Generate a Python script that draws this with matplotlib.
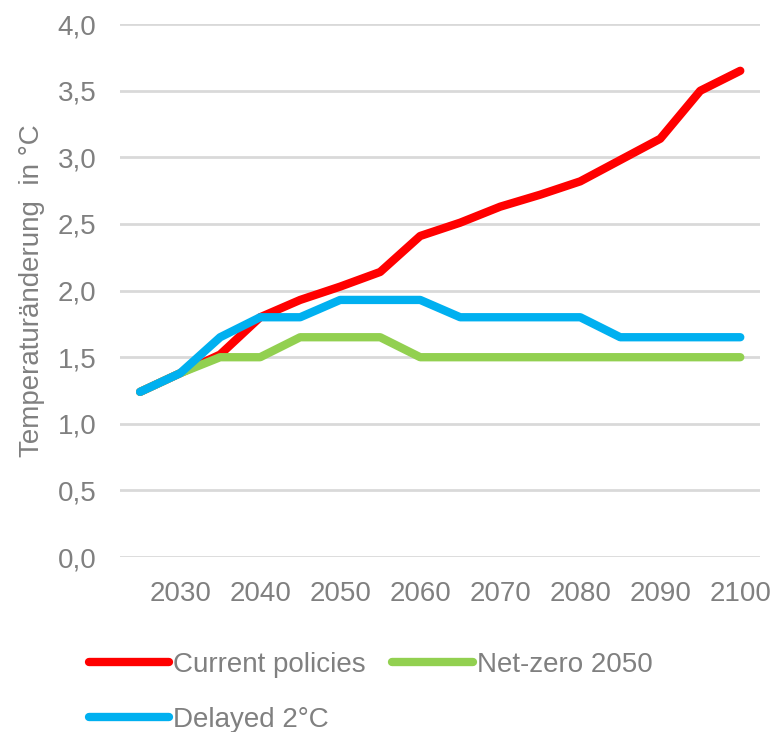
import matplotlib.pyplot as plt
from matplotlib.ticker import FuncFormatter

years = list(range(2025, 2101, 5))
current_policies = [1.24, 1.38, 1.52, 1.80, 1.93, 2.03, 2.14, 2.41, 2.51, 2.63, 2.72, 2.82, 2.98, 3.14, 3.50, 3.65]
net_zero = [1.24, 1.38, 1.50, 1.50, 1.65, 1.65, 1.65, 1.50, 1.50, 1.50, 1.50, 1.50, 1.50, 1.50, 1.50, 1.50]
delayed = [1.24, 1.38, 1.65, 1.80, 1.80, 1.93, 1.93, 1.93, 1.80, 1.80, 1.80, 1.80, 1.65, 1.65, 1.65, 1.65]
xticks = list(range(2030, 2101, 10))

plt.rcParams['font.family'] = ['Liberation Sans', 'DejaVu Sans']
grey = '#808080'

fig = plt.figure(figsize=(7.75, 7.32), dpi=100)
ax = fig.add_axes([0.155, 0.239, 0.826, 0.728])

lw = 6
l1, = ax.plot(years, current_policies, color='#ff0000', lw=lw, label='Current policies', zorder=3, solid_capstyle='round')
l2, = ax.plot(years, net_zero, color='#92d050', lw=lw, label='Net-zero 2050', zorder=4, solid_capstyle='round')
l3, = ax.plot(years, delayed, color='#00b0f0', lw=lw, label='Delayed 2°C', zorder=5, solid_capstyle='round')

ax.set_xlim(2022.5, 2102.5)
ax.set_ylim(0, 4.0)
ax.set_yticks([i * 0.5 for i in range(9)])
ax.yaxis.set_major_formatter(FuncFormatter(lambda v, p: f'{v:.1f}'.replace('.', ',')))
ax.set_xticks(xticks)
ax.grid(axis='y', color='#d9d9d9', lw=2)
ax.set_axisbelow(True)
for s in ax.spines.values():
    s.set_visible(False)
ax.tick_params(length=0, labelsize=20, colors=grey)
ax.tick_params(axis='y', pad=17)
ax.tick_params(axis='x', pad=17)
ax.set_ylabel('Temperaturänderung  in °C', fontsize=20, color=grey, labelpad=9)

fig.legend(handles=[l1, l3, l2], ncol=2, loc='upper left', bbox_to_anchor=(0.1, 0.125),
           frameon=False, fontsize=20, labelcolor=grey, handlelength=2.9,
           handletextpad=0.15, columnspacing=0.95, labelspacing=1.05, borderaxespad=0)

fig.savefig('out.png', dpi=100)
